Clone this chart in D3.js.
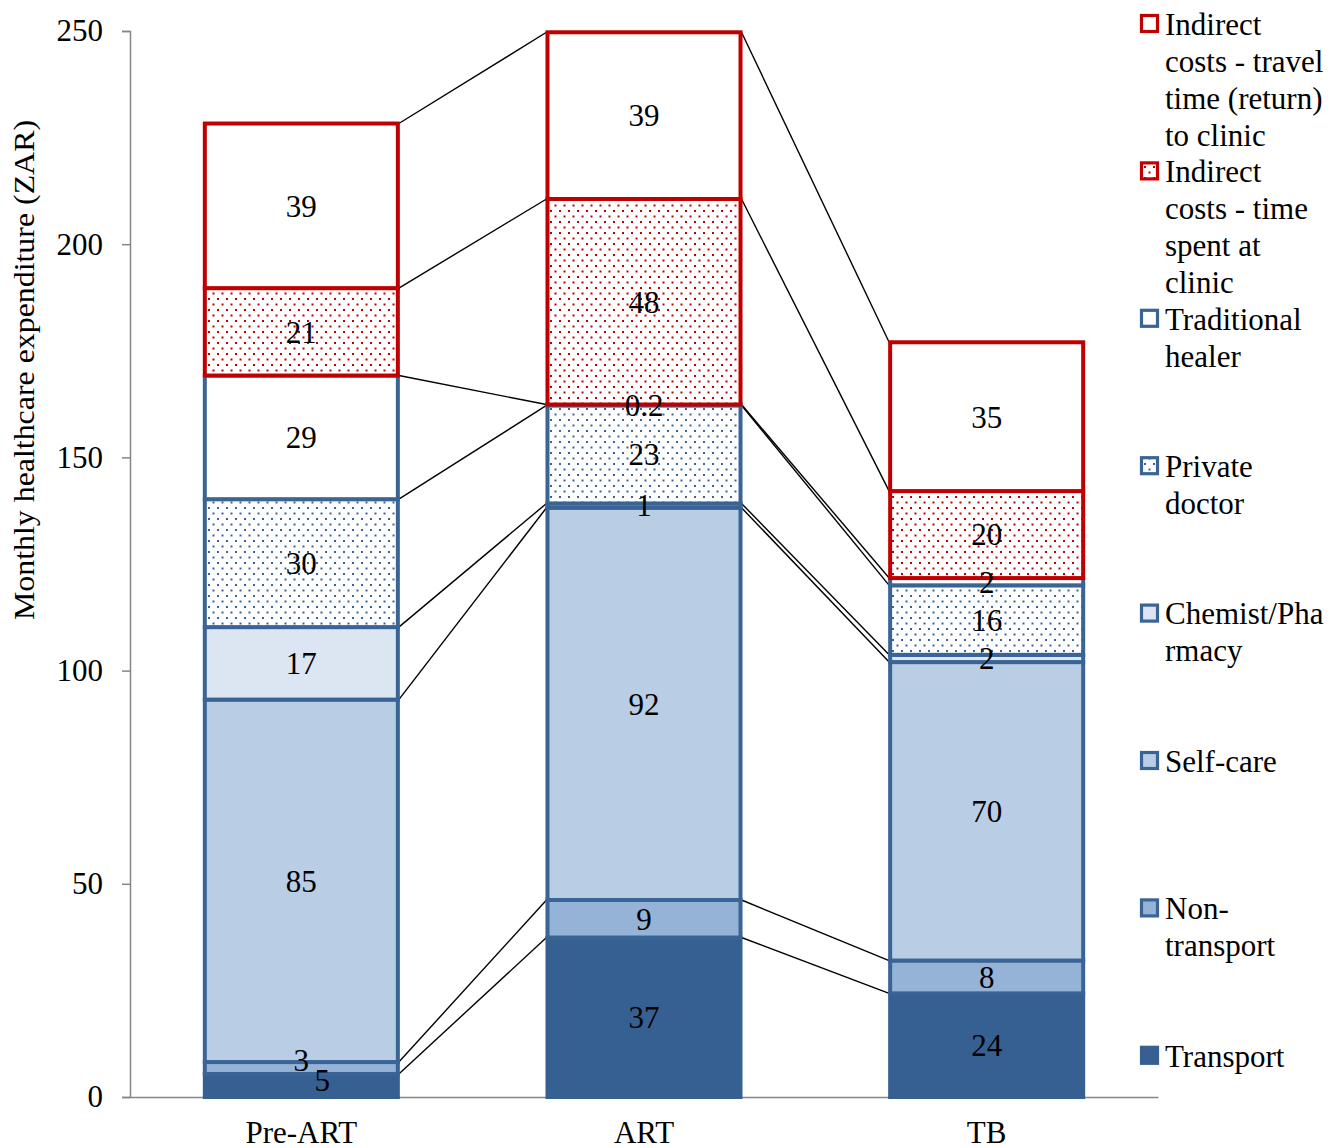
<!DOCTYPE html>
<html>
<head>
<meta charset="utf-8" />
<title>Monthly healthcare expenditure</title>
<script src="https://d3js.org/d3.v7.min.js"></script>
<style>
  body { margin: 0; background: #fff; }
  text { font-family: "Liberation Serif", "Times New Roman", serif; fill: #000; }
</style>
</head>
<body>
<svg width="1333" height="1148"></svg>
<script>
// Data (bottom of stack first)
var categories = ["Pre-ART", "ART", "TB"];
var transport = [5.4, 37.4, 24.3];
var nonTransport = [2.8, 8.8, 7.7];
var selfCare = [85, 92, 70];
var chemist = [17, 1, 1.7];
var privateDoctor = [30, 23, 16.3];
var traditionalHealer = [29, 0.2, 1.7];
var timeAtClinic = [20.5, 48.2, 20.4];
var travelTime = [38.6, 39.1, 34.9];
var yTicks = [0, 50, 100, 150, 200, 250];

var seriesNames = ["Transport", "Non-transport", "Self-care", "Chemist/Pharmacy",
  "Private doctor", "Traditional healer",
  "Indirect costs - time spent at clinic", "Indirect costs - travel time (return) to clinic"];
var legendLines = [
  ["Transport"],
  ["Non-", "transport"],
  ["Self-care"],
  ["Chemist/Pha", "rmacy"],
  ["Private", "doctor"],
  ["Traditional", "healer"],
  ["Indirect", "costs - time", "spent at", "clinic"],
  ["Indirect", "costs - travel", "time (return)", "to clinic"]
];
var seriesValues = [transport, nonTransport, selfCare, chemist, privateDoctor,
  traditionalHealer, timeAtClinic, travelTime];

// styles
var blue = "#3a6496", red = "#c00000";
var styles = [
  { fill: "#376092", stroke: "#376092" },
  { fill: "#95b3d7", stroke: blue },
  { fill: "#b9cde5", stroke: blue },
  { fill: "#dce6f2", stroke: blue },
  { fill: "url(#dotsBlue)", stroke: blue },
  { fill: "#ffffff", stroke: blue },
  { fill: "url(#dotsRed)", stroke: red },
  { fill: "#ffffff", stroke: red }
];

var svg = d3.select("svg");
var font = 31;

// patterns
var defs = svg.append("defs");
[["dotsBlue", blue], ["dotsRed", red]].forEach(function (p) {
  var pat = defs.append("pattern").attr("id", p[0])
    .attr("patternUnits", "userSpaceOnUse").attr("width", 9).attr("height", 11);
  pat.append("rect").attr("width", 9).attr("height", 11).attr("fill", "#fff");
  pat.append("rect").attr("x", 1).attr("y", 1).attr("width", 2).attr("height", 2).attr("fill", p[1]);
  pat.append("rect").attr("x", 5.5).attr("y", 6.5).attr("width", 2).attr("height", 2).attr("fill", p[1]);
});

var plotLeft = 130, plotRight = 1158, plotTop = 31, plotBottom = 1097;

var x = d3.scaleBand().domain(categories).range([plotLeft, plotRight])
  .paddingInner(0.425).paddingOuter(0.2125);
var y = d3.scaleLinear().domain([0, 250]).range([plotBottom, plotTop]);
var bw = x.bandwidth();

// stack
var table = categories.map(function (c, i) {
  var row = { cat: c };
  seriesNames.forEach(function (s, k) { row[s] = seriesValues[k][i]; });
  return row;
});
var stacked = d3.stack().keys(seriesNames)(table);

// y axis
var yAxis = svg.append("g").attr("transform", "translate(" + plotLeft + ",0)")
  .call(d3.axisLeft(y).tickValues(yTicks).tickSize(8).tickPadding(19));
yAxis.select(".domain").attr("stroke", "#868686").attr("stroke-width", 1.5);
yAxis.selectAll(".tick line").attr("stroke", "#868686").attr("stroke-width", 1.5);
yAxis.selectAll(".tick text").style("font-size", font + "px")
  .style("font-family", "Liberation Serif").attr("fill", "#000");

// x axis
var xAxis = svg.append("g").attr("transform", "translate(0," + plotBottom + ")")
  .call(d3.axisBottom(x).tickSize(0).tickPadding(24));
xAxis.select(".domain").attr("stroke", "#868686").attr("stroke-width", 1.5);
xAxis.selectAll(".tick text").style("font-size", font + "px")
  .style("font-family", "Liberation Serif").attr("fill", "#000");

// y title
svg.append("text")
  .attr("transform", "translate(34,370) rotate(-90)")
  .attr("text-anchor", "middle")
  .attr("textLength", 500)
  .attr("lengthAdjust", "spacingAndGlyphs")
  .style("font-size", "29px")
  .text("Monthly healthcare expenditure (ZAR)");

// connector lines between bars
var lines = svg.append("g");
stacked.forEach(function (layer) {
  for (var i = 0; i < categories.length - 1; i++) {
    lines.append("line")
      .attr("x1", x(categories[i]) + bw - 1).attr("y1", y(layer[i][1]))
      .attr("x2", x(categories[i + 1]) + 1).attr("y2", y(layer[i + 1][1]))
      .attr("stroke", "#000").attr("stroke-width", 1.4);
  }
});

// bars
stacked.forEach(function (layer, k) {
  svg.append("g").selectAll("rect")
    .data(layer)
    .enter()
    .append("rect")
    .attr("x", function (d) { return x(d.data.cat) + 2; })
    .attr("y", function (d) { return y(d[1]); })
    .attr("width", bw - 4)
    .attr("height", function (d) { return y(d[0]) - y(d[1]); })
    .attr("fill", styles[k].fill)
    .attr("stroke", styles[k].stroke)
    .attr("stroke-width", 4);
});

// value labels
var fmt = function (v) { return v < 1 ? d3.format(".1f")(v) : Math.round(v); };
categories.forEach(function (c, i) {
  var mids = stacked.map(function (layer) { return y((layer[i][0] + layer[i][1]) / 2); });
  stacked.forEach(function (layer, k) {
    var dx = 0, dy = 0;
    if (k < stacked.length - 1 && Math.abs(mids[k] - mids[k + 1]) < 20) { dx = 21; dy = -5; }
    if (k > 0 && Math.abs(mids[k] - mids[k - 1]) < 20) { dy = -8; }
    svg.append("text")
      .attr("x", x(c) + bw / 2 + dx)
      .attr("y", mids[k] + dy)
      .attr("dy", "0.35em")
      .attr("text-anchor", "middle")
      .style("font-size", font + "px")
      .text(fmt(layer[i][1] - layer[i][0]));
  });
});

// legend (top entry = last series)
var legendTop = 24, legendStep = 147.4, lineH = 37;
var legend = svg.append("g");
seriesNames.slice().reverse().forEach(function (s, j) {
  var k = seriesNames.length - 1 - j;
  var cy = legendTop + j * legendStep;
  legend.append("rect")
    .attr("x", 1141.5).attr("y", cy - 8.5).attr("width", 16).attr("height", 16)
    .attr("fill", styles[k].fill).attr("stroke", styles[k].stroke).attr("stroke-width", 3.2);
  var t = legend.append("text").attr("x", 1165).attr("y", cy).style("font-size", font + "px");
  legendLines[k].forEach(function (ln, n) {
    t.append("tspan").attr("x", 1165).attr("y", cy + n * lineH).attr("dy", "0.35em").text(ln);
  });
});
</script>
</body>
</html>
